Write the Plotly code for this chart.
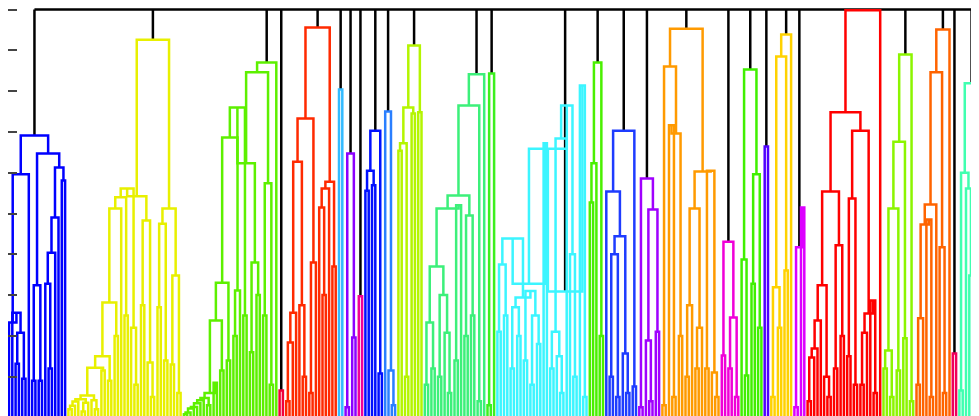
import plotly.graph_objects as go

# Heights on a 0-100 scale (one y tick every 10). Leaf = 0, merge = (height, left, right)
blue_a = (69.1,
          (59.6, (23.3, 0, (25.7, 0, (20.8, (13.2, 0, 0), (9.5, 0, 0)))), 0),
          (64.7, (32.4, (9, 0, 0), (9, 0, 0)),
                 (61.3, (49.0, (40.4, (32.8, 0, (12, 0, 0)), 0), 0), (58.1, 0, 0))))
_ylowc = (4.5, (3.9, (2.9, (2.0, 0, 0), 0), 0), (3.6, (1.5, 0, 0), 0))
_ylowb = (5.4, _ylowc, (4.2, 0, (2.0, 0, 0)))
_ylow = (15, (12.2, _ylowb, (11.5, 0, 0)), (9, 0, 0))
_yq1 = (51.2, (28.2, _ylow, (20, 0, 0)), 0)
_yq3 = (56.1, (54.0, _yq1, (25, 0, 0)), (22, 0, (8, 0, 0)))
_yy3 = (48.3, (27.5, 0, 0), (13.5, 0, (5, 0, 0)))
_yyr = (51.2, (47.5, (27, 0, 0), (14, 0, 0)), (34.8, (13, 0, 0), (6, 0, 0)))
yellow_a = (92.6, (54.2, _yq3, _yy3), _yyr)
_gl = (6.0, (4.8, (4.2, (3.5, (2.6, (2.2, (1.2, (0.8, 0, 0), 0), 0), 0), 0), 0), (3.0, 0, 0)),
       (8.5, 0, 0))
_g283 = (33.0, (23.8, _gl, (11.5, 0, 0)), (14, 0, 0))
_g5 = (68.6, _g283, (31.1, (20, 0, 0), 0))
_g2 = (62.3, (76.0, _g5, (25, 0, 0)), (38.0, (16, 0, 0), (30, 0, 0)))
lime_a = (87.0, (84.6, _g2, (57.4, (25, 0, 0), (8, 0, 0))), 0)
crimson_a = (6.6, 0, 0)
redorange = (95.6,
             (73.3, (62.7, (25.7, (18.4, (4, 0, 0), 0), 0), (27.5, 0, (10, 0, 0))), (38, (6, 0, 0), 0)),
             (57.8, (56.1, (51.5, 0, (30, 0, 0)), 0), (37, 0, 0)))
skyblue = (80.4, 0, 0)
violet = (64.7, (2.5, 0, 0), (19.6, 0, 0))
pink = (29.7, 0, 0)
blue_b = (70.3, (60.5, (55.6, 0, 0), (56.9, 0, 0)), (10.8, 0, 0))
dodger = (75.0, 0, (11.5, 0, (3, 0, 0)))
chart_a = (91.2, (76, (67.2, (65.4, 0, 0), (10, 0, 0)), (74.5, 0, 0)), (74.8, 0, 0))
_sa = (37, (23.3, (8, 0, 0), (12, 0, 0)), (30, (10, 0, 0), (20.8, 0, (6, 0, 0))))
_sb = (52, (14, 0, 0), 0)
spring = (84.1, (76.5, (54.4, (51.2, _sa, _sb), (49.5, (20, 0, 0), (25, 0, 0))), (4, 0, 0)), 0)
green_b = (84.3, (3, 0, 0), 0)
_c263 = (37.5, (21, 0, 0), (25, 0, 0))
_crn = (29.4, (27, (12, 0, 0), (20, 0, 0)), (31, (14, 0, 0), (25, (8, 0, 0), (18, 0, 0))))
_c283 = (32.8, (43.9, _c263, _crn), (67.2, 0, 0))
_c105 = (76.5, (68.4, (21, (12, 0, 0), (15, 0, (6, 0, 0))), 0), (40, 0, (10, 0, 0)))
cyan = (30.9, (65.9, _c283, _c105), (81.4, 0, (5, 0, 0)))
green_c = (87, (62.3, (52.7, 0, 0), 0), (20, 0, 0))
royal = (70.3, (55.4, 0, (44.4, (40, (10, 0, 0), (5, 0, 0)), (15.7, 0, (6, 0, 0)))), (7.6, 0, 0))
purple = (58.6, (2.5, 0, 0), (51, (18.9, 0, (4, 0, 0)), (21, 0, 0)))
orange = (95.3,
          (86, (3, 0, 0), (69.6, (71.6, 0, (5, 0, 0)), (20, 0, 0))),
          (60.3, (51.2, (27.5, (10, 0, 0), 0), (22, (12, 0, 0), 0)),
                 (60.5, (12, 0, 0), (11, 0, (5, 0, 0)))))
magenta_a = (43.1, (15.2, 0, 0), (24.5, (12, 0, 0), (5, 0, 0)))
green_d = (85.3, (38.7, 0, (10.3, 0, 0)), (59.6, (32.8, 0, 0), (22, 0, 0)))
indigo = (66.4, 0, 0)
gold = (93.9, (88.5, (31.9, (5, 0, 0), (22, 0, 0)), (36, 0, 0)), 0)
magenta_b = (41.7, (2.5, 0, 0), (51.5, 0, 0))
_rda = (32.4, (23.8, (16.9, (14.7, (4, 0, 0), 0), 0), 0), (10, 0, (5, 0, 0)))
red = (99.8,
       (74.8, (55.4, _rda, (42.2, (12, 0, 0), (20, 0, 0))),
              (70.3, (53.7, (15, 0, 0), (8, 0, 0)),
                     (25.5, (20.8, (8, 0, 0), 0), (28.7, 0, (6, 0, 0))))),
       0)
chart_b = (89, (67.6, (51.2, (16.4, (12, 0, 0), (5, 0, 0)), (11.5, 0, 0)), (19.4, 0, 0)), (4, 0, 0))
orangered = (95.1, (84.6, (52.2, (47.3, (24.3, (8, 0, 0), 0), (48.5, 0, (5, 0, 0))), 0),
                    (41.7, 0, (6, 0, 0))), 0)
crimson_b = (15.7, 0, 0)
aqua = (81.9, (60, (6.6, 0, 0), (56.1, 0, (34.8, 0, 0))), (20, 0, (10, 0, 0)))

clusters = [blue_a, yellow_a, lime_a, crimson_a, redorange, skyblue, violet, pink, blue_b,
            dodger, chart_a, spring, green_b, cyan, green_c, royal, purple, orange,
            magenta_a, green_d, indigo, gold, magenta_b, red, chart_b, orangered,
            crimson_b, aqua]
cluster_colors = ['#0000ff', '#e8f000', '#5df000', '#f0003c', '#ff2a00', '#33bbff', '#8c00ff',
                  '#f00096', '#0010ff', '#2a7fff', '#b4f500', '#3cf07a', '#3cf01e', '#3cf5ff',
                  '#4af000', '#1e3cff', '#a000ff', '#ff9a00', '#f000d8', '#40f000', '#5000ff',
                  '#ffd200', '#dc00ff', '#ff0000', '#8cf500', '#ff6400', '#f0005a', '#40ffb0']
top_height = 100
y_ticks = [0, 10, 20, 30, 40, 50, 60, 70, 80, 90, 100]

counter = [0]


def place(node, segs):
    if node == 0:
        x = counter[0]
        counter[0] += 1
        return x, 0.0
    h, left, right = node
    xl, hl = place(left, segs)
    xr, hr = place(right, segs)
    segs.append(([xl, xl, xr, xr], [hl, h, h, hr]))
    return (xl + xr) / 2, h


fig = go.Figure()
roots = []
traces = []
for tree, col in zip(clusters, cluster_colors):
    segs = []
    roots.append(place(tree, segs))
    xs, ys = [], []
    for sx, sy in segs:
        xs += sx + [None]
        ys += sy + [None]
    traces.append(go.Scatter(x=xs, y=ys, mode='lines', line=dict(color=col, width=2.5),
                             hoverinfo='skip', showlegend=False))

# black links above the colour threshold: all clusters join at the top height
bx = [roots[0][0], roots[-1][0], None]
by = [top_height, top_height, None]
for (x2, h2) in roots:
    bx += [x2, x2, None]
    by += [h2, top_height, None]
fig.add_trace(go.Scatter(x=bx, y=by, mode='lines', line=dict(color='black', width=2.5),
                         hoverinfo='skip', showlegend=False))
for t in traces:
    fig.add_trace(t)

px = 3.3     # pixels per leaf
py = 4.08    # pixels per height unit
top = 100 + 1.5 / py
fig.update_layout(
    width=979, height=416,
    margin=dict(l=0, r=0, t=0, b=0),
    paper_bgcolor='white', plot_bgcolor='white',
    xaxis=dict(range=[-1 / px, -1 / px + 979 / px], showgrid=False, zeroline=False,
               showticklabels=False, ticks=''),
    yaxis=dict(range=[top - 416 / py, top], showgrid=False, zeroline=False,
               showticklabels=False, tickvals=y_ticks, ticks='inside', ticklen=9,
               tickwidth=2, tickcolor='#444'),
)
fig.write_html("out.html")
